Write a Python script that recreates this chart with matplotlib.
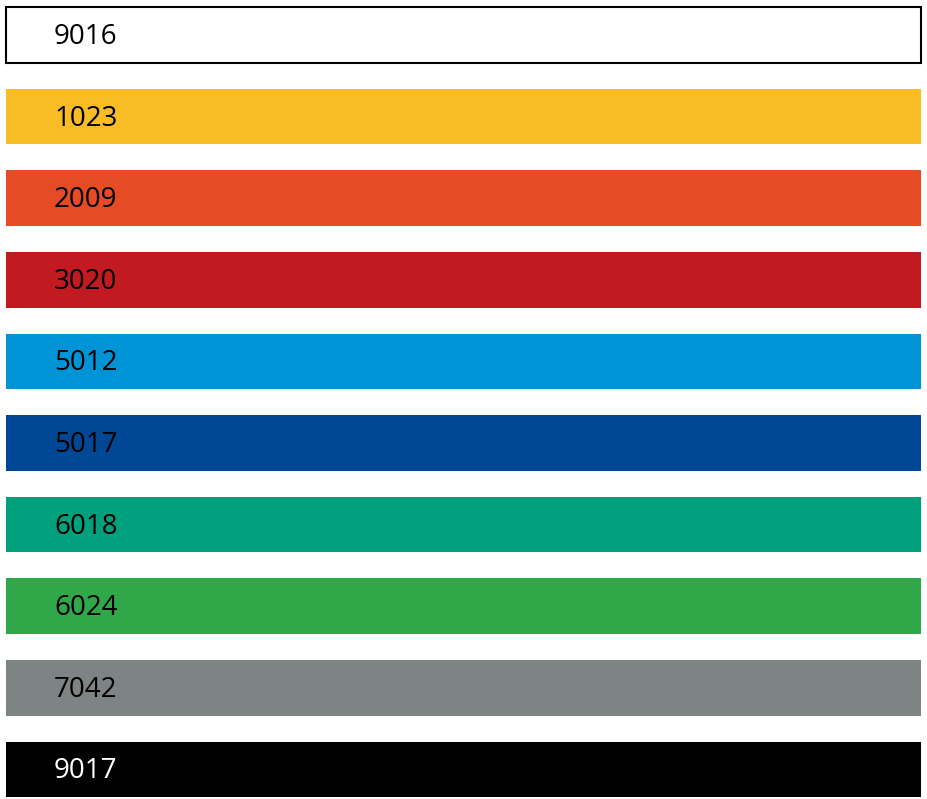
import matplotlib
matplotlib.use("Agg")
import matplotlib.pyplot as plt

codes = ["9016", "1023", "2009", "3020", "5012", "5017", "6018", "6024", "7042", "9017"]
colors = ["#FFFFFF", "#F8BD25", "#E54B24", "#C11A20", "#0093D6",
          "#004895", "#00A07C", "#30A84A", "#7E8384", "#000000"]
text_colors = ["#000000"] * 9 + ["#FFFFFF"]
values = [1] * len(codes)

fig = plt.figure(figsize=(9.27, 7.99), dpi=100)
ax = fig.add_axes([0, 0, 1, 1])
ypos = list(range(len(codes)))
bars = ax.barh(ypos, values, height=0.68, color=colors, left=0)
bars[0].set_edgecolor("#000000")
bars[0].set_linewidth(1.5)
for i, (c, tc) in enumerate(zip(codes, text_colors)):
    ax.text(0.0525, i + 0.025, c, ha="left", va="center", fontsize=20,
            family="Open Sans", color=tc)
ax.set_xlim(-6 / 915, 1 + 6 / 915)
ax.set_ylim(9.363, -0.429)
ax.axis("off")
fig.savefig("out.png", dpi=100)
